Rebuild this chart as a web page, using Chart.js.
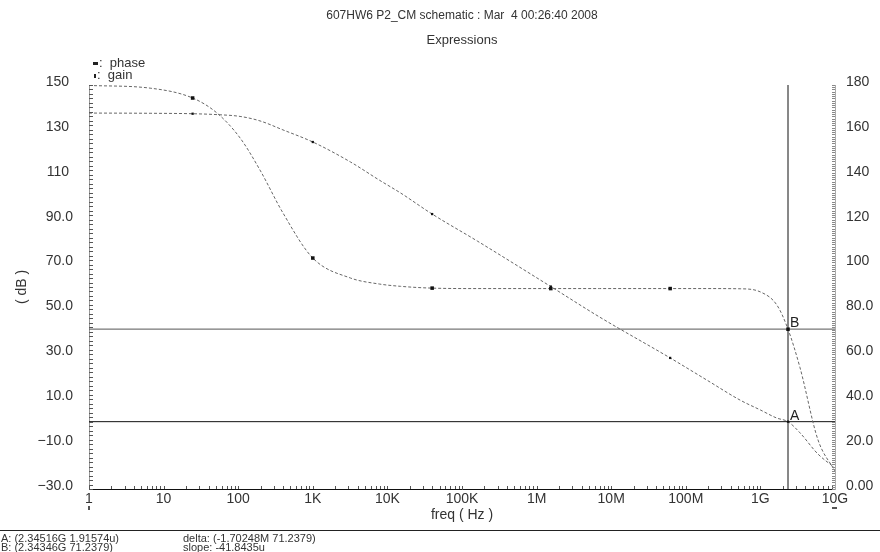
<!DOCTYPE html>
<html>
<head>
<meta charset="utf-8">
<script src="https://cdn.jsdelivr.net/npm/chart.js@4.4.1/dist/chart.umd.min.js"></script>
<style>
  body { margin: 0; background: #fff; }
  #wrap { position: relative; width: 880px; height: 552px; overflow: hidden; }
  #Chart { position: absolute; left: 0; top: 0; }
  .txt { position: absolute; font-family: "Liberation Sans", sans-serif; color: #333; white-space: pre; }
  .ttl { position: absolute; left: 22px; width: 880px; text-align: center; font-family: "Liberation Sans", sans-serif; color: #333; }
  .mk { display: inline-block; background: #222; vertical-align: middle; margin-right: 1px; }
  #sep { position: absolute; left: 0; top: 530px; width: 880px; height: 1px; background: #222; }
</style>
</head>
<body>
<div id="wrap">
  <canvas id="Chart" width="880" height="552"></canvas>
  <div class="ttl" style="top:8px;font-size:12px">607HW6 P2_CM schematic : Mar&nbsp;&nbsp;4 00:26:40 2008</div>
  <div class="ttl" style="top:32px;font-size:13px">Expressions</div>
  <div class="txt" style="left:93px;top:55px;font-size:13px"><span class="mk" style="width:5px;height:3px"></span>:  phase</div>
  <div class="txt" style="left:94px;top:67px;font-size:13px"><span class="mk" style="width:2px;height:4px"></span>:  gain</div>
  <span class="mk" style="position:absolute;left:88px;top:506px;width:2px;height:4px;background:#555"></span>
  <span class="mk" style="position:absolute;left:832px;top:507px;width:5px;height:2px;background:#555"></span>
  <div id="sep"></div>
  <div class="txt" style="left:1px;top:534px;font-size:11px;line-height:9px">A: (2.34516G 1.91574u)
B: (2.34346G 71.2379)</div>
  <div class="txt" style="left:183px;top:534px;font-size:11px;line-height:9px">delta: (-1.70248M 71.2379)
slope: -41.8435u</div>
</div>
<script>
// frequency points (Hz)
const freq = [1, 6.6, 24.5, 52, 106, 196, 398, 1000, 3200, 7900, 15000, 39800, 160000,
  1.55e6, 7e6, 61.7e6, 190e6, 535e6, 1e9, 1.66e9, 2.345e9, 3.4e9, 5.9e9, 1e10];
const gainDb = [137.5, 137.4, 137.2, 136.8, 136.0, 134.0, 130.0, 124.6, 115.7, 107.5, 101.9, 92.5, 80.5,
  60.2, 46.6, 28.4, 18.6, 9.6, 5.2, 1.6, 0.0, -5.0, -14.4, -20.6];
const phaseDeg = [179.8, 178.6, 174.2, 167.5, 156.4, 142.1, 123.0, 102.9, 94.0, 91.3, 90.3, 89.5, 89.3,
  89.3, 89.3, 89.3, 89.3, 89.2, 87.8, 82.0, 71.2, 54.0, 22.0, 8.0];
// where the plot draws its symbols
const markerFreq = [24.5, 1000, 39800, 1.55e6, 61.7e6, 2.345e9];

// cursors A / B
const cursorFreq = 2.34516e9;
const cursorGain = 1.91574e-6;
const cursorPhase = 71.2379;

const gainTicks = [-30, -10, 10, 30, 50, 70, 90, 110, 130, 150];
const gainTickLabels = ['\u221230.0', '\u221210.0', '10.0', '30.0', '50.0', '70.0', '90.0', '110 ', '130 ', '150 '];
const phaseTicks = [0, 20, 40, 60, 80, 100, 120, 140, 160, 180];
const phaseTickLabels = ['0.00', '20.0', '40.0', '60.0', '80.0', '100', '120', '140', '160', '180'];
const freqTicks = [1, 10, 100, 1e3, 1e4, 1e5, 1e6, 1e7, 1e8, 1e9, 1e10];
const freqTickLabels = ['1', '10', '100', '1K', '10K', '100K', '1M', '10M', '100M', '1G', '10G'];

const FONT = '"Liberation Sans", sans-serif';
const TXT = '#333';

// small ticks drawn inside the frame plus the A / B cursor letters
const innerTicks = {
  id: 'innerTicks',
  afterDraw(chart) {
    const {ctx, chartArea: a, scales} = chart;
    ctx.save();
    ctx.lineWidth = 1;
    ctx.strokeStyle = '#555';
    ctx.beginPath();
    for (let v = -30; v <= 150; v += 2) {
      const y = Math.round(scales.y.getPixelForValue(v)) + 0.5;
      ctx.moveTo(a.left, y); ctx.lineTo(a.left + 4, y);
    }
    for (let d = 0; d < 10; d++) {
      for (let m = 1; m <= 9; m++) {
        const x = Math.round(scales.x.getPixelForValue(m * Math.pow(10, d))) + 0.5;
        ctx.moveTo(x, a.bottom); ctx.lineTo(x, a.bottom - 3);
      }
    }
    ctx.stroke();
    ctx.strokeStyle = '#888';
    ctx.beginPath();
    for (let v = 0; v <= 180; v += 1) {
      const y = Math.round(scales.y1.getPixelForValue(v)) + 0.5;
      ctx.moveTo(a.right - 3, y); ctx.lineTo(a.right, y);
    }
    ctx.stroke();

    ctx.fillStyle = '#222';
    ctx.font = '14px ' + FONT;
    ctx.textBaseline = 'bottom';
    const cx = scales.x.getPixelForValue(cursorFreq);
    ctx.fillText('A', cx + 2, scales.y.getPixelForValue(cursorGain) + 1);
    ctx.fillText('B', cx + 2, scales.y1.getPixelForValue(cursorPhase) + 1);
    ctx.restore();
  }
};

function pts(ys) {
  return freq.map((f, i) => ({x: f, y: ys[i]}));
}
function markerRadius(r) {
  return ctx => markerFreq.includes(freq[ctx.dataIndex]) ? r : 0;
}

new Chart('Chart', {
  type: 'line',
  data: {
    datasets: [
      {
        label: 'phase', yAxisID: 'y1', data: pts(phaseDeg),
        borderColor: '#666', borderWidth: 1, borderDash: [3, 2],
        cubicInterpolationMode: 'monotone',
        pointStyle: 'rect', pointRadius: markerRadius(2.5),
        pointBackgroundColor: '#111', pointBorderColor: '#111', pointBorderWidth: 0
      },
      {
        label: 'gain', yAxisID: 'y', data: pts(gainDb),
        borderColor: '#666', borderWidth: 1, borderDash: [3, 2],
        cubicInterpolationMode: 'monotone',
        pointStyle: 'rect', pointRadius: markerRadius(1.6),
        pointBackgroundColor: '#111', pointBorderColor: '#111', pointBorderWidth: 0
      },
      {
        label: 'cursor', yAxisID: 'y',
        data: [{x: cursorFreq, y: -30}, {x: cursorFreq, y: 150}],
        borderColor: '#111', borderWidth: 1, pointRadius: 0
      },
      {
        label: 'A', yAxisID: 'y',
        data: [{x: 1, y: cursorGain}, {x: 1e10, y: cursorGain}],
        borderColor: '#111', borderWidth: 1, pointRadius: 0
      },
      {
        label: 'B', yAxisID: 'y1',
        data: [{x: 1, y: cursorPhase}, {x: 1e10, y: cursorPhase}],
        borderColor: '#555', borderWidth: 1, pointRadius: 0
      }
    ]
  },
  options: {
    responsive: false,
    animation: false,
    layout: {padding: {top: 85}},
    plugins: {
      legend: {display: false},
      tooltip: {enabled: false}
    },
    scales: {
      x: {
        type: 'logarithmic', min: 1, max: 1e10,
        afterBuildTicks: s => { s.ticks = freqTicks.map(v => ({value: v})); },
        afterFit: s => { s.height = 63; },
        ticks: {
          autoSkip: false, maxRotation: 0, padding: 2,
          color: TXT, font: {family: FONT, size: 14},
          callback: (v, i) => freqTickLabels[i]
        },
        grid: {display: false, drawTicks: false},
        border: {display: true, color: '#111', width: 1},
        title: {
          display: true, text: 'freq ( Hz )',
          color: TXT, font: {family: FONT, size: 14},
          padding: {top: 0, bottom: 28}
        }
      },
      y: {
        position: 'left', min: -30, max: 150,
        afterBuildTicks: s => { s.ticks = gainTicks.map(v => ({value: v})); },
        afterFit: s => { s.width = 89; },
        ticks: {
          autoSkip: false, padding: 16, labelOffset: -3,
          color: TXT, font: {family: FONT, size: 14},
          callback: (v, i) => gainTickLabels[i]
        },
        grid: {display: false, drawTicks: false},
        border: {display: true, color: '#999', width: 1},
        title: {
          display: true, text: '( dB )',
          color: TXT, font: {family: FONT, size: 14},
          padding: {top: 14, bottom: 0}
        }
      },
      y1: {
        position: 'right', min: 0, max: 180,
        afterBuildTicks: s => { s.ticks = phaseTicks.map(v => ({value: v})); },
        afterFit: s => { s.width = 45; },
        ticks: {
          autoSkip: false, padding: 11, labelOffset: -3,
          color: TXT, font: {family: FONT, size: 14},
          callback: (v, i) => phaseTickLabels[i]
        },
        grid: {display: false, drawTicks: false},
        border: {display: true, color: '#aaa', width: 1}
      }
    }
  },
  plugins: [innerTicks]
});
</script>
</body>
</html>
